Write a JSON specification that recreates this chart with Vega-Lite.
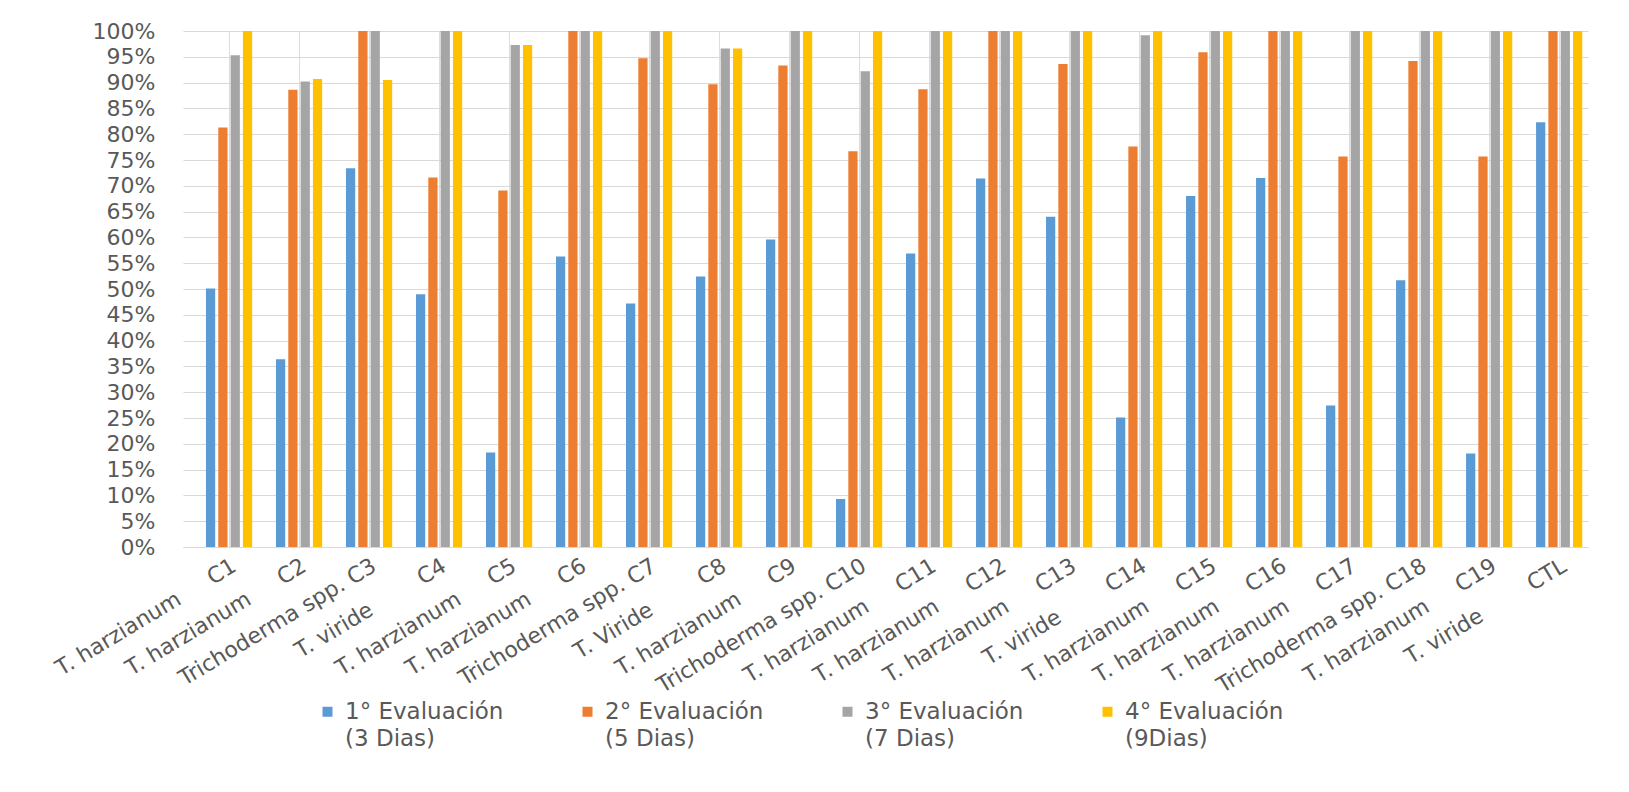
{
  "$schema": "https://vega.github.io/schema/vega-lite/v6.json",
  "width": 1405,
  "height": 516,
  "autosize": {"type": "none"},
  "padding": {"left": 183, "top": 31, "right": 41, "bottom": 245},
  "background": "white",
  "data": {
    "values": [
      {"cepa": "T. harzianum\u00a0\u00a0\u00a0\u00a0\u00a0C1", "ev": "1° Evaluación|(3 Dias)", "pct": 0.501},
      {"cepa": "T. harzianum\u00a0\u00a0\u00a0\u00a0\u00a0C1", "ev": "2° Evaluación|(5 Dias)", "pct": 0.813},
      {"cepa": "T. harzianum\u00a0\u00a0\u00a0\u00a0\u00a0C1", "ev": "3° Evaluación|(7 Dias)", "pct": 0.953},
      {"cepa": "T. harzianum\u00a0\u00a0\u00a0\u00a0\u00a0C1", "ev": "4° Evaluación|(9Dias)", "pct": 1.0},
      {"cepa": "T. harzianum\u00a0\u00a0\u00a0\u00a0\u00a0C2", "ev": "1° Evaluación|(3 Dias)", "pct": 0.364},
      {"cepa": "T. harzianum\u00a0\u00a0\u00a0\u00a0\u00a0C2", "ev": "2° Evaluación|(5 Dias)", "pct": 0.886},
      {"cepa": "T. harzianum\u00a0\u00a0\u00a0\u00a0\u00a0C2", "ev": "3° Evaluación|(7 Dias)", "pct": 0.902},
      {"cepa": "T. harzianum\u00a0\u00a0\u00a0\u00a0\u00a0C2", "ev": "4° Evaluación|(9Dias)", "pct": 0.907},
      {"cepa": "Trichoderma spp.\u00a0C3", "ev": "1° Evaluación|(3 Dias)", "pct": 0.734},
      {"cepa": "Trichoderma spp.\u00a0C3", "ev": "2° Evaluación|(5 Dias)", "pct": 1.0},
      {"cepa": "Trichoderma spp.\u00a0C3", "ev": "3° Evaluación|(7 Dias)", "pct": 1.0},
      {"cepa": "Trichoderma spp.\u00a0C3", "ev": "4° Evaluación|(9Dias)", "pct": 0.905},
      {"cepa": "T. viride\u00a0\u00a0\u00a0\u00a0\u00a0\u00a0\u00a0\u00a0C4", "ev": "1° Evaluación|(3 Dias)", "pct": 0.49},
      {"cepa": "T. viride\u00a0\u00a0\u00a0\u00a0\u00a0\u00a0\u00a0\u00a0C4", "ev": "2° Evaluación|(5 Dias)", "pct": 0.716},
      {"cepa": "T. viride\u00a0\u00a0\u00a0\u00a0\u00a0\u00a0\u00a0\u00a0C4", "ev": "3° Evaluación|(7 Dias)", "pct": 1.0},
      {"cepa": "T. viride\u00a0\u00a0\u00a0\u00a0\u00a0\u00a0\u00a0\u00a0C4", "ev": "4° Evaluación|(9Dias)", "pct": 1.0},
      {"cepa": "T. harzianum\u00a0\u00a0\u00a0\u00a0\u00a0C5", "ev": "1° Evaluación|(3 Dias)", "pct": 0.183},
      {"cepa": "T. harzianum\u00a0\u00a0\u00a0\u00a0\u00a0C5", "ev": "2° Evaluación|(5 Dias)", "pct": 0.691},
      {"cepa": "T. harzianum\u00a0\u00a0\u00a0\u00a0\u00a0C5", "ev": "3° Evaluación|(7 Dias)", "pct": 0.973},
      {"cepa": "T. harzianum\u00a0\u00a0\u00a0\u00a0\u00a0C5", "ev": "4° Evaluación|(9Dias)", "pct": 0.973},
      {"cepa": "T. harzianum\u00a0\u00a0\u00a0\u00a0\u00a0C6", "ev": "1° Evaluación|(3 Dias)", "pct": 0.563},
      {"cepa": "T. harzianum\u00a0\u00a0\u00a0\u00a0\u00a0C6", "ev": "2° Evaluación|(5 Dias)", "pct": 1.0},
      {"cepa": "T. harzianum\u00a0\u00a0\u00a0\u00a0\u00a0C6", "ev": "3° Evaluación|(7 Dias)", "pct": 1.0},
      {"cepa": "T. harzianum\u00a0\u00a0\u00a0\u00a0\u00a0C6", "ev": "4° Evaluación|(9Dias)", "pct": 1.0},
      {"cepa": "Trichoderma spp.\u00a0C7", "ev": "1° Evaluación|(3 Dias)", "pct": 0.472},
      {"cepa": "Trichoderma spp.\u00a0C7", "ev": "2° Evaluación|(5 Dias)", "pct": 0.947},
      {"cepa": "Trichoderma spp.\u00a0C7", "ev": "3° Evaluación|(7 Dias)", "pct": 1.0},
      {"cepa": "Trichoderma spp.\u00a0C7", "ev": "4° Evaluación|(9Dias)", "pct": 1.0},
      {"cepa": "T. Viride\u00a0\u00a0\u00a0\u00a0\u00a0\u00a0\u00a0\u00a0C8", "ev": "1° Evaluación|(3 Dias)", "pct": 0.524},
      {"cepa": "T. Viride\u00a0\u00a0\u00a0\u00a0\u00a0\u00a0\u00a0\u00a0C8", "ev": "2° Evaluación|(5 Dias)", "pct": 0.897},
      {"cepa": "T. Viride\u00a0\u00a0\u00a0\u00a0\u00a0\u00a0\u00a0\u00a0C8", "ev": "3° Evaluación|(7 Dias)", "pct": 0.966},
      {"cepa": "T. Viride\u00a0\u00a0\u00a0\u00a0\u00a0\u00a0\u00a0\u00a0C8", "ev": "4° Evaluación|(9Dias)", "pct": 0.966},
      {"cepa": "T. harzianum\u00a0\u00a0\u00a0\u00a0\u00a0C9", "ev": "1° Evaluación|(3 Dias)", "pct": 0.596},
      {"cepa": "T. harzianum\u00a0\u00a0\u00a0\u00a0\u00a0C9", "ev": "2° Evaluación|(5 Dias)", "pct": 0.933},
      {"cepa": "T. harzianum\u00a0\u00a0\u00a0\u00a0\u00a0C9", "ev": "3° Evaluación|(7 Dias)", "pct": 1.0},
      {"cepa": "T. harzianum\u00a0\u00a0\u00a0\u00a0\u00a0C9", "ev": "4° Evaluación|(9Dias)", "pct": 1.0},
      {"cepa": "Trichoderma spp.\u00a0C10", "ev": "1° Evaluación|(3 Dias)", "pct": 0.093},
      {"cepa": "Trichoderma spp.\u00a0C10", "ev": "2° Evaluación|(5 Dias)", "pct": 0.767},
      {"cepa": "Trichoderma spp.\u00a0C10", "ev": "3° Evaluación|(7 Dias)", "pct": 0.922},
      {"cepa": "Trichoderma spp.\u00a0C10", "ev": "4° Evaluación|(9Dias)", "pct": 1.0},
      {"cepa": "T. harzianum\u00a0\u00a0\u00a0\u00a0\u00a0C11", "ev": "1° Evaluación|(3 Dias)", "pct": 0.569},
      {"cepa": "T. harzianum\u00a0\u00a0\u00a0\u00a0\u00a0C11", "ev": "2° Evaluación|(5 Dias)", "pct": 0.887},
      {"cepa": "T. harzianum\u00a0\u00a0\u00a0\u00a0\u00a0C11", "ev": "3° Evaluación|(7 Dias)", "pct": 1.0},
      {"cepa": "T. harzianum\u00a0\u00a0\u00a0\u00a0\u00a0C11", "ev": "4° Evaluación|(9Dias)", "pct": 1.0},
      {"cepa": "T. harzianum\u00a0\u00a0\u00a0\u00a0\u00a0C12", "ev": "1° Evaluación|(3 Dias)", "pct": 0.714},
      {"cepa": "T. harzianum\u00a0\u00a0\u00a0\u00a0\u00a0C12", "ev": "2° Evaluación|(5 Dias)", "pct": 1.0},
      {"cepa": "T. harzianum\u00a0\u00a0\u00a0\u00a0\u00a0C12", "ev": "3° Evaluación|(7 Dias)", "pct": 1.0},
      {"cepa": "T. harzianum\u00a0\u00a0\u00a0\u00a0\u00a0C12", "ev": "4° Evaluación|(9Dias)", "pct": 1.0},
      {"cepa": "T. harzianum\u00a0\u00a0\u00a0\u00a0\u00a0C13", "ev": "1° Evaluación|(3 Dias)", "pct": 0.64},
      {"cepa": "T. harzianum\u00a0\u00a0\u00a0\u00a0\u00a0C13", "ev": "2° Evaluación|(5 Dias)", "pct": 0.936},
      {"cepa": "T. harzianum\u00a0\u00a0\u00a0\u00a0\u00a0C13", "ev": "3° Evaluación|(7 Dias)", "pct": 1.0},
      {"cepa": "T. harzianum\u00a0\u00a0\u00a0\u00a0\u00a0C13", "ev": "4° Evaluación|(9Dias)", "pct": 1.0},
      {"cepa": "T. viride\u00a0\u00a0\u00a0\u00a0\u00a0\u00a0\u00a0\u00a0C14", "ev": "1° Evaluación|(3 Dias)", "pct": 0.251},
      {"cepa": "T. viride\u00a0\u00a0\u00a0\u00a0\u00a0\u00a0\u00a0\u00a0C14", "ev": "2° Evaluación|(5 Dias)", "pct": 0.776},
      {"cepa": "T. viride\u00a0\u00a0\u00a0\u00a0\u00a0\u00a0\u00a0\u00a0C14", "ev": "3° Evaluación|(7 Dias)", "pct": 0.992},
      {"cepa": "T. viride\u00a0\u00a0\u00a0\u00a0\u00a0\u00a0\u00a0\u00a0C14", "ev": "4° Evaluación|(9Dias)", "pct": 1.0},
      {"cepa": "T. harzianum\u00a0\u00a0\u00a0\u00a0\u00a0C15", "ev": "1° Evaluación|(3 Dias)", "pct": 0.68},
      {"cepa": "T. harzianum\u00a0\u00a0\u00a0\u00a0\u00a0C15", "ev": "2° Evaluación|(5 Dias)", "pct": 0.959},
      {"cepa": "T. harzianum\u00a0\u00a0\u00a0\u00a0\u00a0C15", "ev": "3° Evaluación|(7 Dias)", "pct": 1.0},
      {"cepa": "T. harzianum\u00a0\u00a0\u00a0\u00a0\u00a0C15", "ev": "4° Evaluación|(9Dias)", "pct": 1.0},
      {"cepa": "T. harzianum\u00a0\u00a0\u00a0\u00a0\u00a0C16", "ev": "1° Evaluación|(3 Dias)", "pct": 0.715},
      {"cepa": "T. harzianum\u00a0\u00a0\u00a0\u00a0\u00a0C16", "ev": "2° Evaluación|(5 Dias)", "pct": 1.0},
      {"cepa": "T. harzianum\u00a0\u00a0\u00a0\u00a0\u00a0C16", "ev": "3° Evaluación|(7 Dias)", "pct": 1.0},
      {"cepa": "T. harzianum\u00a0\u00a0\u00a0\u00a0\u00a0C16", "ev": "4° Evaluación|(9Dias)", "pct": 1.0},
      {"cepa": "T. harzianum\u00a0\u00a0\u00a0\u00a0\u00a0C17", "ev": "1° Evaluación|(3 Dias)", "pct": 0.274},
      {"cepa": "T. harzianum\u00a0\u00a0\u00a0\u00a0\u00a0C17", "ev": "2° Evaluación|(5 Dias)", "pct": 0.757},
      {"cepa": "T. harzianum\u00a0\u00a0\u00a0\u00a0\u00a0C17", "ev": "3° Evaluación|(7 Dias)", "pct": 1.0},
      {"cepa": "T. harzianum\u00a0\u00a0\u00a0\u00a0\u00a0C17", "ev": "4° Evaluación|(9Dias)", "pct": 1.0},
      {"cepa": "Trichoderma spp.\u00a0C18", "ev": "1° Evaluación|(3 Dias)", "pct": 0.517},
      {"cepa": "Trichoderma spp.\u00a0C18", "ev": "2° Evaluación|(5 Dias)", "pct": 0.942},
      {"cepa": "Trichoderma spp.\u00a0C18", "ev": "3° Evaluación|(7 Dias)", "pct": 1.0},
      {"cepa": "Trichoderma spp.\u00a0C18", "ev": "4° Evaluación|(9Dias)", "pct": 1.0},
      {"cepa": "T. harzianum\u00a0\u00a0\u00a0\u00a0\u00a0C19", "ev": "1° Evaluación|(3 Dias)", "pct": 0.181},
      {"cepa": "T. harzianum\u00a0\u00a0\u00a0\u00a0\u00a0C19", "ev": "2° Evaluación|(5 Dias)", "pct": 0.757},
      {"cepa": "T. harzianum\u00a0\u00a0\u00a0\u00a0\u00a0C19", "ev": "3° Evaluación|(7 Dias)", "pct": 1.0},
      {"cepa": "T. harzianum\u00a0\u00a0\u00a0\u00a0\u00a0C19", "ev": "4° Evaluación|(9Dias)", "pct": 1.0},
      {"cepa": "T. viride\u00a0\u00a0\u00a0\u00a0\u00a0\u00a0\u00a0\u00a0CTL", "ev": "1° Evaluación|(3 Dias)", "pct": 0.823},
      {"cepa": "T. viride\u00a0\u00a0\u00a0\u00a0\u00a0\u00a0\u00a0\u00a0CTL", "ev": "2° Evaluación|(5 Dias)", "pct": 1.0},
      {"cepa": "T. viride\u00a0\u00a0\u00a0\u00a0\u00a0\u00a0\u00a0\u00a0CTL", "ev": "3° Evaluación|(7 Dias)", "pct": 1.0},
      {"cepa": "T. viride\u00a0\u00a0\u00a0\u00a0\u00a0\u00a0\u00a0\u00a0CTL", "ev": "4° Evaluación|(9Dias)", "pct": 1.0}
    ]
  },
  "mark": {"type": "bar"},
  "encoding": {
    "x": {
      "field": "cepa",
      "type": "nominal",
      "sort": null,
      "title": null,
      "scale": {"paddingInner": 0.34, "paddingOuter": 0.205, "align": 0.8},
      "axis": {
        "labelAngle": -31,
        "labelAlign": "right",
        "labelBaseline": "top",
        "labelFont": "DejaVu Sans",
        "labelFontSize": 22,
        "labelColor": "#595959",
        "labelPadding": 8,
        "labelLimit": 400,
        "labelOverlap": false,
        "ticks": false,
        "domainColor": "#d9d9d9",
        "domainWidth": 1
      }
    },
    "xOffset": {
      "field": "ev",
      "type": "nominal",
      "scale": {"paddingInner": 0.25, "paddingOuter": 0}
    },
    "y": {
      "field": "pct",
      "type": "quantitative",
      "title": null,
      "scale": {"domain": [0, 1], "nice": false},
      "axis": {
        "values": [0, 0.05, 0.1, 0.15, 0.2, 0.25, 0.3, 0.35, 0.4, 0.45, 0.5, 0.55, 0.6, 0.65, 0.7, 0.75, 0.8, 0.85, 0.9, 0.95, 1],
        "format": ".0%",
        "labelFont": "DejaVu Sans",
        "labelFontSize": 22,
        "labelColor": "#595959",
        "labelPadding": 28,
        "ticks": false,
        "domain": false,
        "gridColor": "#d9d9d9",
        "gridWidth": 1
      }
    },
    "color": {
      "field": "ev",
      "type": "nominal",
      "scale": {"range": ["#5B9BD5", "#ED7D31", "#A5A5A5", "#FFC000"]},
      "legend": {
        "title": null,
        "orient": "none",
        "legendX": 133,
        "legendY": 669,
        "direction": "horizontal",
        "columns": 4,
        "columnPadding": 72,
        "padding": 0,
        "symbolType": "square",
        "symbolSize": 100,
        "symbolStrokeWidth": 0,
        "labelFont": "DejaVu Sans",
        "labelFontSize": 23,
        "labelColor": "#595959",
        "labelLimit": 400,
        "labelOffset": 6,
        "labelBaseline": "middle",
        "labelExpr": "split(datum.label, '|')"
      }
    }
  },
  "config": {
    "view": {"stroke": null},
    "axis": {"grid": true},
    "style": {"guide-label": {"lineHeight": 27}}
  }
}
